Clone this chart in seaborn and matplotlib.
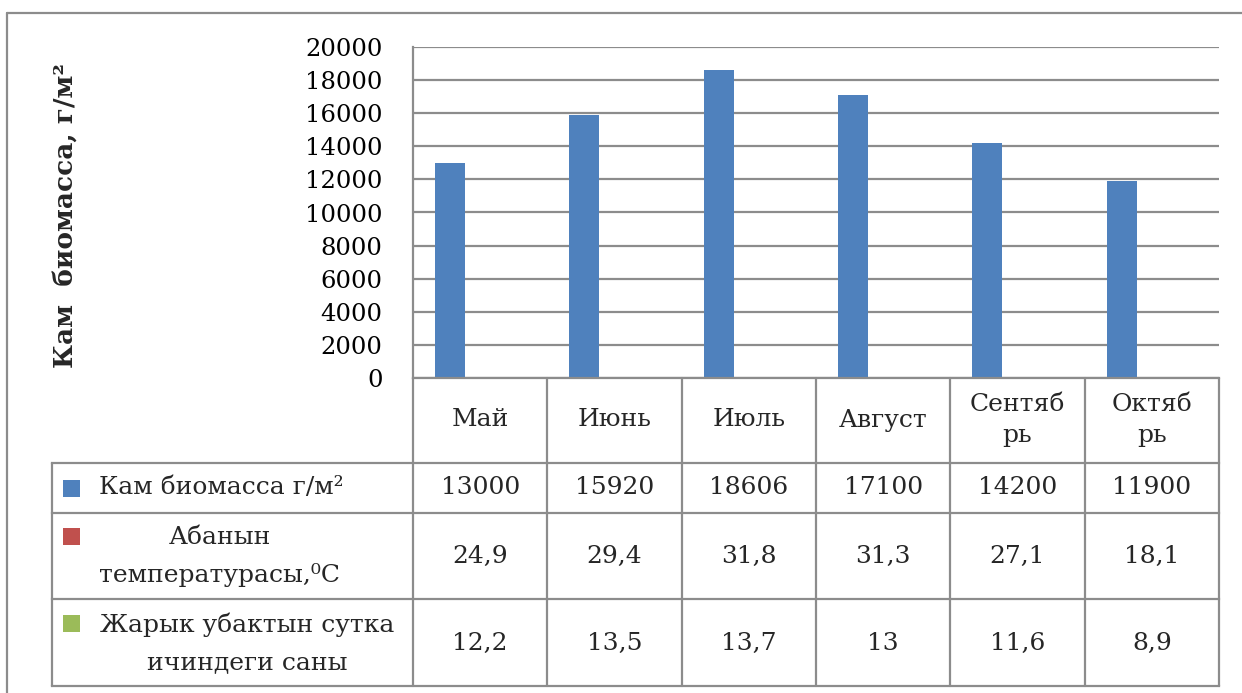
import numpy as np
import pandas as pd
import matplotlib
matplotlib.use('Agg')
import matplotlib.pyplot as plt
import seaborn as sns
from matplotlib.patches import Rectangle

# ---------------- data ----------------
months = ['Май', 'Июнь', 'Июль', 'Август', 'Сентябрь', 'Октябрь']
series_names = ['Кам биомасса г/м²',
                'Абанын температурасы,⁰С',
                'Жарык убактын сутка ичиндеги саны']
biomass = [13000, 15920, 18606, 17100, 14200, 11900]
temperature = [24.9, 29.4, 31.8, 31.3, 27.1, 18.1]
daylight = [12.2, 13.5, 13.7, 13, 11.6, 8.9]
yticks = list(range(0, 20001, 2000))
y_label = 'Кам  биомасса, г/м²'
row_labels = [['Кам биомасса г/м²'],
              ['Абанын', 'температурасы,⁰С'],
              ['Жарык убактын сутка', 'ичиндеги саны']]

colors = ['#4F81BD', '#C0504D', '#9BBB59']
grey = '#8C8C8C'

W, H = 1242, 693
sns.set_theme(style='white')
plt.rcParams['font.family'] = ['DejaVu Serif']

fig = plt.figure(figsize=(W / 100, H / 100), dpi=100)


def px(x0, y0, x1, y1):
    return [x0 / W, 1 - y1 / H, (x1 - x0) / W, (y1 - y0) / H]


ax = fig.add_axes(px(413, 47, 1219, 378))
df = pd.DataFrame({
    'month': months * 3,
    'series': [s for s in series_names for _ in months],
    'value': biomass + temperature + daylight,
})
sns.barplot(data=df, x='month', y='value', hue='series', order=months,
            hue_order=series_names, palette=colors, width=0.67,
            saturation=1, linewidth=0, legend=False, ax=ax)
ax.set_xlim(-0.5, len(months) - 0.5)
ax.set_ylim(0, 20000)
ax.set_yticks(yticks)
ax.set_yticklabels([str(t) for t in yticks], fontsize=17.5, color='black')
ax.tick_params(axis='y', length=0, pad=22)
ax.tick_params(axis='x', length=0, labelbottom=False)
ax.set_xlabel('')
ax.set_ylabel('')
ax.grid(axis='y', color=grey, linewidth=1.6)
ax.grid(axis='x', visible=False)
ax.set_axisbelow(True)
for s in ['top', 'right']:
    ax.spines[s].set_visible(False)
for s in ['left', 'bottom']:
    ax.spines[s].set_color(grey)
    ax.spines[s].set_linewidth(1.6)

# ---------------- overlay for table ----------------
ov = fig.add_axes([0, 0, 1, 1])
ov.set_xlim(0, W)
ov.set_ylim(H, 0)
ov.axis('off')


def colx(v):
    return ax.transData.transform((v, 0))[0]


bounds = [colx(i - 0.5) for i in range(len(months) + 1)]
centers = [colx(i) for i in range(len(months))]
tab_left = 52
row_y = [378, 463, 513, 599, 686]
lw = 1.6

# horizontal lines
for y in row_y[1:]:
    ov.plot([tab_left, bounds[-1]], [y, y], color=grey, lw=lw, solid_capstyle='projecting')
# vertical lines
ov.plot([tab_left, tab_left], [row_y[1], row_y[-1]], color=grey, lw=lw)
for b in bounds:
    ov.plot([b, b], [row_y[0], row_y[-1]], color=grey, lw=lw)

# header months
for m, cx in zip(months, centers):
    lbl = m if len(m) <= 6 else m[:-2] + '\n' + m[-2:]
    ov.text(cx, 420, lbl, ha='center', va='center', fontsize=18,
            linespacing=1.45)

# values
tables = [biomass, temperature, daylight]
row_centers = [488, 556, 643]
for vals, yc in zip(tables, row_centers):
    for v, cx in zip(vals, centers):
        ov.text(cx, yc, f'{v:g}'.replace('.', ','), ha='center', va='center',
                fontsize=18)

# legend squares and row labels
sq_y = [488, 536, 623]
text_lines_y = [[488], [537, 575], [625, 663]]
text_cx = [221, 220, 247]
for c, sy, lines, ys, tcx in zip(colors, sq_y, row_labels, text_lines_y, text_cx):
    ov.add_patch(Rectangle((63, sy - 8), 17, 17, color=c, lw=0))
    for t, yy in zip(lines, ys):
        ov.text(tcx, yy, t, ha='center', va='center', fontsize=18)

# y-axis title
ov.text(65, 215, y_label, rotation=90, ha='center', va='center',
        fontsize=19, fontweight='bold')

# outer border (top and left)
ov.plot([7, W], [13, 13], color=grey, lw=lw)
ov.plot([7, 7], [13, H], color=grey, lw=lw)

fig.savefig('out.png', dpi=100)
